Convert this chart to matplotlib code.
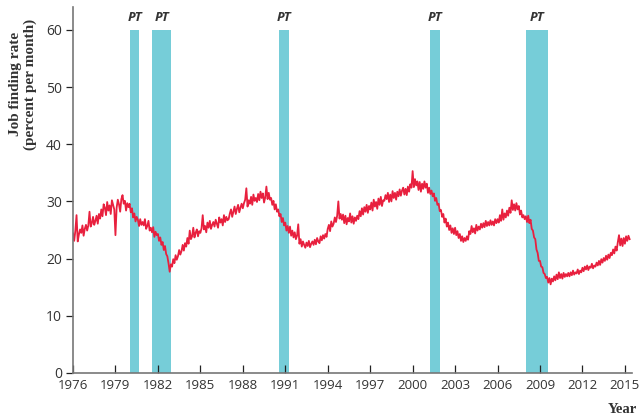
import numpy as np
import matplotlib.pyplot as plt

# monthly job finding rate, percent per month, Jan 1976 onward
rate_by_year = {
    1976: [24.4, 23.1, 24.9, 27.6, 23.0, 24.2, 25.1, 24.5, 25.8, 24.0, 25.2, 25.9],
    1977: [24.9, 25.8, 28.2, 25.6, 26.2, 27.3, 25.9, 26.6, 27.5, 26.1, 27.8, 27.0],
    1978: [28.6, 27.4, 29.5, 28.9, 27.6, 29.9, 28.4, 29.3, 27.8, 30.2, 29.4, 28.6],
    1979: [24.1, 28.9, 30.3, 29.5, 28.2, 30.4, 31.1, 29.6, 30.1, 28.4, 29.7, 29.0],
    1980: [29.6, 28.1, 28.8, 27.2, 27.9, 26.5, 27.3, 26.8, 25.7, 26.9, 25.9, 26.4],
    1981: [25.8, 26.9, 25.2, 25.7, 26.6, 24.9, 25.4, 24.6, 25.5, 23.8, 24.7, 24.1],
    1982: [24.3, 23.1, 23.7, 22.4, 22.9, 21.5, 22.2, 20.8, 20.4, 19.2, 17.7, 19.0],
    1983: [18.6, 19.9, 19.2, 20.6, 19.8, 20.4, 21.5, 20.7, 21.3, 22.4, 21.4, 22.7],
    1984: [22.1, 23.6, 22.6, 24.9, 23.4, 23.9, 25.4, 23.7, 24.5, 25.1, 23.9, 24.8],
    1985: [24.5, 25.3, 27.6, 25.1, 25.7, 24.6, 26.3, 25.4, 26.6, 25.2, 25.9, 26.4],
    1986: [25.6, 26.8, 26.1, 25.4, 27.2, 26.3, 26.9, 25.8, 27.6, 26.4, 27.3, 26.7],
    1987: [26.9, 27.9, 28.6, 27.3, 28.2, 29.1, 27.8, 28.7, 29.4, 28.1, 28.9, 29.6],
    1988: [28.8, 29.7, 30.3, 32.3, 29.1, 30.2, 29.6, 30.8, 29.4, 31.2, 30.1, 30.6],
    1989: [29.9, 31.3, 30.2, 31.7, 30.6, 31.4, 29.8, 30.7, 32.6, 30.4, 31.5, 30.3],
    1990: [30.6, 29.4, 30.1, 28.6, 29.5, 28.2, 28.6, 27.4, 27.8, 26.4, 27.1, 25.8],
    1991: [26.3, 24.9, 25.7, 24.5, 25.6, 24.0, 24.9, 23.7, 24.6, 23.4, 24.0, 26.0],
    1992: [22.6, 23.4, 22.1, 23.0, 22.4, 21.9, 22.8, 22.2, 23.1, 22.0, 22.6, 23.0],
    1993: [22.4, 23.3, 22.5, 23.6, 23.0, 22.7, 23.9, 23.2, 24.1, 23.5, 24.3, 23.8],
    1994: [25.2, 25.9, 24.8, 26.5, 25.6, 26.1, 27.2, 26.4, 27.5, 30.0, 27.0, 27.8],
    1995: [26.8, 27.7, 26.2, 27.5, 26.0, 27.1, 26.5, 27.9, 26.3, 27.4, 26.1, 27.2],
    1996: [26.6, 27.5, 26.9, 28.3, 27.4, 28.8, 27.7, 29.0, 28.2, 29.4, 28.0, 29.2],
    1997: [28.6, 29.8, 28.4, 30.3, 29.1, 29.9, 28.7, 30.5, 29.4, 30.8, 29.2, 30.2],
    1998: [30.1, 31.1, 30.4, 31.5, 29.9, 31.2, 30.0, 31.8, 30.6, 31.5, 30.3, 31.7],
    1999: [30.9, 32.1, 31.0, 31.9, 32.4, 31.2, 32.2, 31.1, 32.6, 31.7, 33.0, 32.4],
    2000: [35.3, 32.5, 33.9, 32.8, 33.5, 32.0, 33.4, 31.7, 33.1, 32.2, 33.5, 32.4],
    2001: [33.1, 31.5, 32.4, 31.3, 31.9, 30.9, 31.4, 30.1, 30.6, 29.4, 29.6, 28.3],
    2002: [28.5, 27.3, 27.8, 26.3, 27.0, 25.6, 26.3, 25.0, 25.8, 24.5, 25.3, 24.3],
    2003: [25.4, 24.1, 24.8, 23.6, 24.3, 23.1, 23.9, 22.9, 23.6, 23.1, 23.9, 23.3],
    2004: [24.8, 24.3, 25.7, 24.6, 25.3, 24.4, 25.9, 24.9, 25.6, 25.1, 26.1, 25.4],
    2005: [26.2, 25.5, 26.6, 25.7, 26.4, 25.8, 26.7, 25.9, 26.5, 25.8, 26.9, 26.2],
    2006: [26.9, 26.3, 27.6, 26.6, 28.6, 26.8, 27.9, 27.2, 28.4, 27.5, 28.9, 28.0],
    2007: [30.2, 28.5, 29.5, 28.4, 29.7, 28.6, 29.2, 27.7, 28.4, 27.2, 27.6, 26.9],
    2008: [27.4, 26.4, 27.5, 26.2, 26.8, 25.2, 24.9, 23.7, 23.4, 21.6, 21.0, 19.6],
    2009: [19.6, 18.6, 18.5, 17.5, 17.3, 16.6, 16.8, 15.8, 16.6, 15.5, 16.5, 16.0],
    2010: [16.9, 16.2, 17.2, 16.4, 17.6, 16.6, 17.3, 16.5, 17.5, 16.8, 17.3, 16.9],
    2011: [17.5, 16.9, 17.6, 17.1, 17.9, 17.2, 17.6, 17.4, 18.1, 17.3, 17.9, 17.6],
    2012: [18.4, 17.8, 18.6, 18.1, 18.8, 18.0, 18.6, 18.4, 19.1, 18.3, 18.8, 18.6],
    2013: [19.3, 18.8, 19.6, 18.9, 19.9, 19.3, 20.1, 19.6, 20.5, 19.8, 20.7, 20.1],
    2014: [21.0, 20.6, 21.6, 20.9, 22.1, 21.4, 22.9, 24.1, 22.3, 23.5, 22.2, 23.6],
    2015: [22.6, 23.9, 23.1, 24.0, 23.4],
}

# recession periods (start, end) in fractional years
recession_start = [1980.03, 1981.58, 1990.56, 2001.23, 2008.01]
recession_end = [1980.66, 1982.93, 1991.27, 2001.94, 2009.57]

year_ticks = list(range(1976, 2016, 3))
rate_ticks = [0, 10, 20, 30, 40, 50, 60]

RED = "#e8203e"
CYAN = "#76cdd8"
GRAY = "#777777"
TXT = "#333333"

t = []
rate = []
for yr, vals in rate_by_year.items():
    for m, v in enumerate(vals):
        t.append(yr + m / 12.0)
        rate.append(v)

fig = plt.figure(figsize=(6.42, 4.18), dpi=100)
ax = fig.add_axes([0.1137, 0.1077, 0.8707, 0.8756])

for s, e in zip(recession_start, recession_end):
    ax.bar(s, 60, width=e - s, align="edge", color=CYAN, linewidth=0, zorder=1)
    ax.text((s + e) / 2, 61.0, "PT", ha="center", va="bottom", fontsize=9.5,
            fontstyle="italic", fontweight="bold", color=TXT, family="Open Sans")

ax.plot(t, rate, color=RED, linewidth=1.3, zorder=2)

ax.set_xlim(1976, 2015.5)
ax.set_ylim(0, 64)
ax.set_xticks(year_ticks)
ax.set_yticks(rate_ticks)

for side in ["top", "right"]:
    ax.spines[side].set_visible(False)
for side in ["left", "bottom"]:
    ax.spines[side].set_color(GRAY)
    ax.spines[side].set_linewidth(1.2)

ax.tick_params(axis="x", direction="in", length=6, color="#222222", width=0.9,
               labelsize=9.5, labelcolor=TXT, pad=4)
ax.tick_params(axis="y", direction="out", length=5, color="#222222", width=0.9,
               labelsize=10, labelcolor=TXT, pad=3)
for lab in ax.get_xticklabels() + ax.get_yticklabels():
    lab.set_family("Open Sans")

fig.text(0.036, 0.955, "Job finding rate\n(percent per month)", rotation=90,
         ha="center", va="top", fontsize=11, fontweight="bold",
         family="Liberation Serif", color=TXT, linespacing=1.1)
fig.text(0.992, 0.005, "Year", ha="right", va="bottom", fontsize=10.5,
         fontweight="bold", family="Liberation Serif", color=TXT)

fig.savefig("out.png", dpi=100)
